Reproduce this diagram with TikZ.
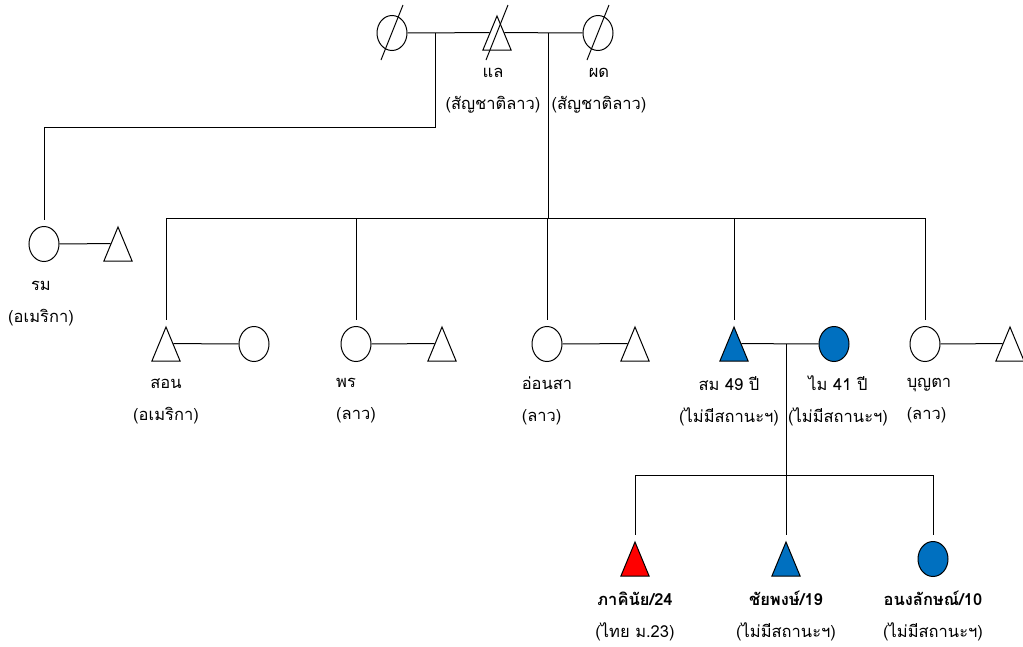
\documentclass[tikz,border=0pt]{standalone}
\usepackage{fontspec}
\setmainfont[Script=Thai]{Loma}
\usetikzlibrary{calc,positioning,shapes.geometric}
\definecolor{pblue}{HTML}{0070C0}
\tikzset{%
	male/.style   = {draw, isosceles triangle, isosceles triangle apex angle=45, shape border rotate=90, minimum width=28pt, minimum height=34pt, inner sep=0pt, yshift=-7.6pt}, % Male
	female/.style = {draw, ellipse, minimum width=30pt, minimum height=35pt, inner sep=0pt}, % Female
	tag/.style    = {align=center, font=\fontsize{16.5}{32}\selectfont}, % Name
	drop/.style   = {shorten >=6pt},
}

\begin{document}
\begin{tikzpicture}[x=1pt,y=-1pt,line width=1pt,node distance=58pt]
		\useasboundingbox (0,0) rectangle (1023,646);
		% first generation
		\node [female] (gm1) at (392,33) {};
		\node [male] (gf) [right of=gm1,node distance=105pt] {};
		\node [female] (gm2) [right of=gf,node distance=101pt,yshift=7.6pt] {};
		\node [tag] (lgf) [below of=gm1,xshift=101pt] {แล\\(สัญชาติลาว)};
		\node [tag] (lgm2) [below of=gm2,xshift=1pt] {ผด\\(สัญชาติลาว)};
		
		% second generation
		\node [female] (rom) at (44,244) {};
		\node [male] (romh) [right of=rom,node distance=74pt] {};
		\node [male] (son) at (166,344) {};
		\node [female] (sonw) at (254,344) {};
		\node [female] (porn) at (356,344) {};
		\node [male] (pornh) [right of=porn,node distance=86pt] {};
		\node [female] (onsa) at (547,344) {};
		\node [male] (onsah) [right of=onsa,node distance=88pt] {};
		\node [male,fill=pblue] (som) at (734,344) {};
		\node [female,fill=pblue] (mai) at (834,344) {};
		\node [female] (bunta) at (925,344) {};
		\node [male] (buntah) [right of=bunta,node distance=85pt] {};
		
		\node [tag] (lrom) [below of=rom,node distance=60pt,xshift=-3pt] {รม\\(อเมริกา)};
		\node [tag] (lson) [below of=sonw,node distance=57pt,xshift=-88pt] {สอน\\(อเมริกา)};
		\node [tag,align=left] (lporn) [below of=porn,node distance=57pt] {พร\\(ลาว)};
		\node [tag,align=left] (lonsa) [below of=onsa,node distance=57pt] {อ่อนสา\\(ลาว)};
		\node [tag] (lsom) [below of=mai,node distance=57pt,xshift=-105pt] {สม 49 ปี\\(ไม่มีสถานะฯ)};
		\node [tag] (lmai) [below of=mai,node distance=57pt,xshift=4pt] {ไม 41 ปี\\(ไม่มีสถานะฯ)};
		\node [tag,align=left] (lbunta) [below of=bunta,node distance=57pt,xshift=4pt] {บุญตา\\(ลาว)};
		
		% third generation
		\node [male,fill=red] (pak) at (635,559) {};
		\node [male,fill=pblue] (chai) at (786,559) {};
		\node [female,fill=pblue] (anong) at (933,559) {};
		\node [tag] (lpak) [below of=anong,node distance=57pt,xshift=-298pt] {\textbf{ภาคินัย/24}\\(ไทย ม.23)};
		\node [tag] (lchai) [below of=anong,node distance=57pt,xshift=-147pt] {\textbf{ชัยพงษ์/19}\\(ไม่มีสถานะฯ)};
		\node [tag] (lanong) [below of=anong,node distance=57pt] {\textbf{อนงลักษณ์/10}\\(ไม่มีสถานะฯ)};
		
		\coordinate (m1) at (435,33);
		\coordinate (m1b) at (435,127);
		\coordinate (m2) at (548,33);
		\coordinate (sib) at (548,218);
		\coordinate (m3) at (786,344);
		\coordinate (kids) at (786,475);
		
		\draw (gm1) -- (gf.left side);
		\draw (gf.right side) -- (gm2);
		\foreach \d in {gm1,gm2}
			\draw ($(\d)+(-11,27)$) -- ($(\d)+(11,-28)$);
		\draw ($(gm1)+(94,27)$) -- ($(gm1)+(116,-28)$);
		\draw[drop] (m1) -- (m1b) -| (rom);
		\draw (m2) -- (sib);
		\draw (son |- sib) -- (bunta |- sib);
		\foreach \c in {son,porn,onsa,som,bunta}
			\draw[drop] (\c |- sib) -- (\c);
		
		\draw (rom) -- (romh.left side);
		\draw (son.right side) -- (sonw);
		\draw (porn) -- (pornh.left side);
		\draw (onsa) -- (onsah.left side);
		\draw (som.right side) -- (mai);
		\draw (bunta) -- (buntah.left side);
		
		\draw (m3) -- (kids);
		\draw (pak |- kids) -- (anong |- kids);
		\foreach \c in {pak,chai,anong}
			\draw[drop] (\c |- kids) -- (\c);
	\end{tikzpicture}
\end{document}
